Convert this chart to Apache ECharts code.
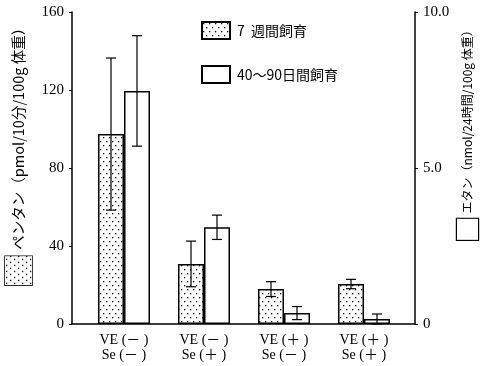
<!DOCTYPE html>
<html><head><meta charset="utf-8">
<script src="https://cdn.jsdelivr.net/npm/echarts@6/dist/echarts.min.js"></script>
<style>html,body{margin:0;padding:0;background:#fff}#c{width:480px;height:366px}</style>
</head><body><div id="c"></div>
<script>
const categories = ['VE (－ )\nSe (－ )', 'VE (－ )\nSe (＋ )', 'VE (＋ )\nSe (－ )', 'VE (＋ )\nSe (＋ )'];
const seriesNames = ['7  週間飼育', '40～90日間飼育'];
const pentane = [97.4, 30.8, 17.9, 20.5];      // left axis, pmol
const pentaneSD = [39, 11.7, 3.8, 2.4];
const ethane = [7.47, 3.1, 0.35, 0.16];         // right axis, nmol
const ethaneSD = [1.77, 0.39, 0.21, 0.16];
const leftTicks = [0, 40, 80, 120, 160];
const rightTicks = ['0', '5.0', '10.0'];

function makePattern(w, h) {
  const c = document.createElement('canvas');
  c.width = w; c.height = h;
  const g = c.getContext('2d');
  g.fillStyle = '#fff'; g.fillRect(0, 0, w, h);
  g.fillStyle = '#000';
  for (let y = 0; y < h; y += 8) {
    for (let x = 0; x < w; x += 6) {
      g.fillRect(x + 1, y + 1, 1.3, 1.3);
      g.fillRect(x + 4, y + 5, 1.3, 1.3);
    }
  }
  return c;
}
const pc = makePattern(6, 8);
const pattern = { image: pc, repeat: 'repeat' };
const boxUrl = makePattern(29, 27).toDataURL();

const serif = 'Liberation Serif, "Noto Sans CJK JP"';
const jp = '"Noto Sans CJK JP", sans-serif';

function errData(vals, sd) {
  return vals.map((v, i) => [i, Math.max(0, v - sd[i]), v + sd[i]]);
}
function errRender(offset) {
  return function (params, api) {
    const c = api.value(0);
    const lo = api.coord([c, api.value(1)]);
    const hi = api.coord([c, api.value(2)]);
    const x = lo[0] + offset;
    const st = { stroke: '#000', lineWidth: 1.2 };
    return { type: 'group', children: [
      { type: 'line', shape: { x1: x, y1: lo[1], x2: x, y2: hi[1] }, style: st },
      { type: 'line', shape: { x1: x - 5, y1: lo[1], x2: x + 5, y2: lo[1] }, style: st },
      { type: 'line', shape: { x1: x - 5, y1: hi[1], x2: x + 5, y2: hi[1] }, style: st }
    ]};
  };
}

const chart = echarts.init(document.getElementById('c'), null, { renderer: 'canvas' });
chart.setOption({
  animation: false,
  backgroundColor: '#fff',
  grid: [
    { left: 84, right: 76, top: 12, bottom: 42, outerBoundsMode: 'none', containLabel: false },
    { left: 72, right: 65, top: 12, bottom: 42, outerBoundsMode: 'none', containLabel: false }
  ],
  legend: {
    data: seriesNames,
    orient: 'vertical',
    left: 201, top: 21, padding: 0,
    itemWidth: 28, itemHeight: 17, itemGap: 25,
    icon: 'rect',
    textStyle: { fontFamily: jp, fontSize: 14, color: '#000', padding: [0, 0, 0, 2] }
  },
  xAxis: [
    { type: 'category', gridIndex: 0, data: categories,
      axisLine: { show: false }, axisTick: { show: false },
      axisLabel: { fontFamily: serif, fontSize: 14, color: '#000', lineHeight: 15, margin: 9 } },
    { type: 'value', gridIndex: 1, min: 0, max: 1, show: true,
      axisLine: { show: true, lineStyle: { color: '#000', width: 1.5 } },
      axisTick: { show: false }, axisLabel: { show: false }, splitLine: { show: false } }
  ],
  yAxis: [
    { type: 'value', gridIndex: 0, min: 0, max: 160, show: false },
    { type: 'value', gridIndex: 0, min: 0, max: 10, show: false },
    { type: 'value', gridIndex: 1, position: 'left', min: 0, max: 160, interval: 40,
      axisLine: { show: true, lineStyle: { color: '#000', width: 1.5 } },
      axisTick: { show: true, length: 3, lineStyle: { color: '#000' } },
      splitLine: { show: false },
      axisLabel: { fontFamily: serif, fontSize: 15, color: '#000', margin: 8 },
      name: '{box|}  ペンタン（pmol/10分/100g 体重）',
      nameLocation: 'middle', nameRotate: 90, nameGap: 40, nameMoveOverlap: false,
      nameTextStyle: { fontFamily: jp, fontSize: 14.5, color: '#000', padding: [0, 0, 0, 30],
        rich: { box: { width: 29, height: 27, borderColor: '#000', borderWidth: 1.5,
          backgroundColor: { image: boxUrl } } } } },
    { type: 'value', gridIndex: 1, position: 'right', min: 0, max: 10, interval: 5,
      axisLine: { show: true, lineStyle: { color: '#000', width: 1.5 } },
      axisTick: { show: true, length: 3, lineStyle: { color: '#000' } },
      splitLine: { show: false },
      axisLabel: { fontFamily: serif, fontSize: 15, color: '#000', margin: 8,
        formatter: v => rightTicks[v / 5] },
      name: '{box|}  エタン（nmol/24時間/100g 体重）',
      nameLocation: 'middle', nameRotate: 90, nameGap: 42, nameMoveOverlap: false,
      nameTextStyle: { fontFamily: jp, fontSize: 12, color: '#000', padding: [0, 0, 0, 72],
        rich: { box: { width: 21, height: 21, borderColor: '#000', borderWidth: 1.2,
          backgroundColor: '#fff' } } } }
  ],
  series: [
    { name: seriesNames[0], type: 'bar', xAxisIndex: 0, yAxisIndex: 0, data: pentane,
      barWidth: 26, barGap: '0%',
      itemStyle: { color: pattern, borderColor: '#000', borderWidth: 1.5 } },
    { name: seriesNames[1], type: 'bar', xAxisIndex: 0, yAxisIndex: 1, data: ethane,
      barWidth: 26, barGap: '0%',
      itemStyle: { color: '#fff', borderColor: '#000', borderWidth: 1.5 } },
    { name: 'errP', type: 'custom', xAxisIndex: 0, yAxisIndex: 0, z: 5,
      data: errData(pentane, pentaneSD), renderItem: errRender(-13) },
    { name: 'errE', type: 'custom', xAxisIndex: 0, yAxisIndex: 1, z: 5,
      data: errData(ethane, ethaneSD), renderItem: errRender(13) }
  ]
});
</script></body></html>
